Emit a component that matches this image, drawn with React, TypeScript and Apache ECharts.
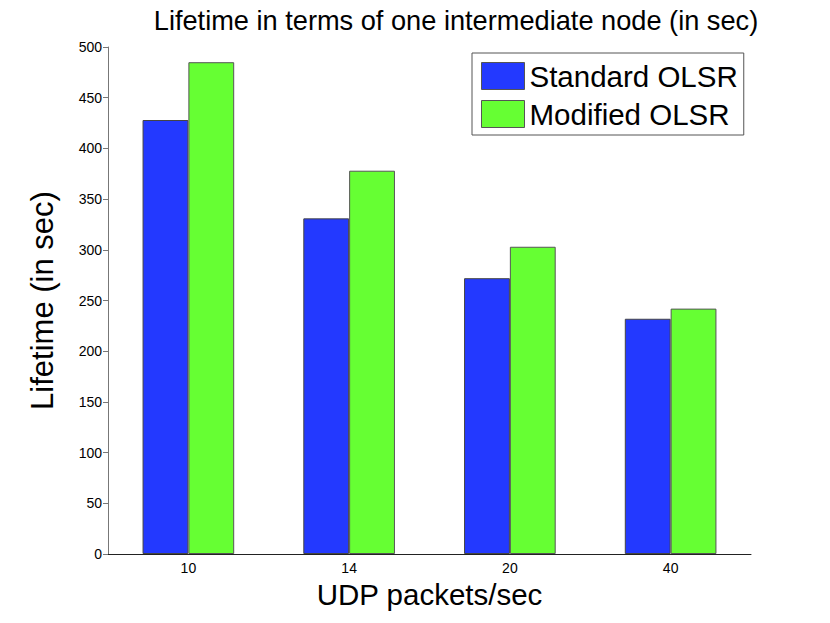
import React, { useEffect, useRef } from "react";
import * as echarts from "echarts";

const categories = ["10", "14", "20", "40"];
const standardOLSR = [428, 331, 272, 232];
const modifiedOLSR = [485, 378, 303, 242];
const seriesNames = ["Standard OLSR", "Modified OLSR"];

const FONT = "Liberation Sans, Arial, Helvetica, sans-serif";

export default function App() {
  const ref = useRef<HTMLDivElement>(null);
  useEffect(() => {
    const chart = echarts.init(ref.current!, null, { renderer: "svg" });
    chart.setOption({
      animation: false,
      backgroundColor: "#ffffff",
      textStyle: { fontFamily: FONT },
      title: {
        text: "Lifetime in terms of one intermediate node (in sec)",
        left: 451,
        textAlign: "center",
        top: 2,
        textStyle: { fontFamily: FONT, fontSize: 27.2, fontWeight: "normal", color: "#000" },
      },
      legend: {
        orient: "vertical",
        left: 472,
        top: 53,
        width: 272,
        padding: [8, 6, 6, 9],
        itemWidth: 43,
        itemHeight: 27,
        itemGap: 8,
        icon: "rect",
        borderColor: "#555",
        borderWidth: 1,
        backgroundColor: "#fff",
        textStyle: { fontFamily: FONT, fontSize: 29.5, lineHeight: 27, color: "#000" },
        itemStyle: { borderColor: "#555", borderWidth: 1 },
        data: seriesNames,
      },
      grid: { left: 108, right: 79, top: 47, bottom: 69 },
      xAxis: {
        type: "category",
        data: categories,
        boundaryGap: true,
        name: "UDP packets/sec",
        nameLocation: "middle",
        nameGap: 24,
        nameTextStyle: { fontFamily: FONT, fontSize: 29.5, color: "#000" },
        axisLine: { lineStyle: { color: "#222", width: 1 } },
        axisTick: { inside: true, length: 6, lineStyle: { color: "#222" } },
        axisLabel: { fontFamily: FONT, fontSize: 14, color: "#000", margin: 7 },
      },
      yAxis: {
        type: "value",
        min: 0,
        max: 500,
        interval: 50,
        name: "Lifetime (in sec)",
        nameLocation: "middle",
        nameGap: 50,
        nameTextStyle: { fontFamily: FONT, fontSize: 31, color: "#000" },
        axisLine: { show: true, lineStyle: { color: "#777", width: 1 } },
        axisTick: { show: true, inside: false, length: 5, lineStyle: { color: "#777" } },
        axisLabel: { fontFamily: FONT, fontSize: 14, color: "#000", margin: 6 },
        splitLine: { show: false },
      },
      series: [
        {
          name: seriesNames[0],
          type: "bar",
          data: standardOLSR,
          barGap: "0%",
          barCategoryGap: "43%",
          itemStyle: { color: "#2339ff", borderColor: "#444", borderWidth: 1 },
        },
        {
          name: seriesNames[1],
          type: "bar",
          data: modifiedOLSR,
          barGap: "0%",
          barCategoryGap: "43%",
          itemStyle: { color: "#66ff33", borderColor: "#555", borderWidth: 1 },
        },
      ],
    });
    return () => chart.dispose();
  }, []);
  return <div ref={ref} style={{ width: 830, height: 623, position: "absolute", left: 0, top: 0 }} />;
}
